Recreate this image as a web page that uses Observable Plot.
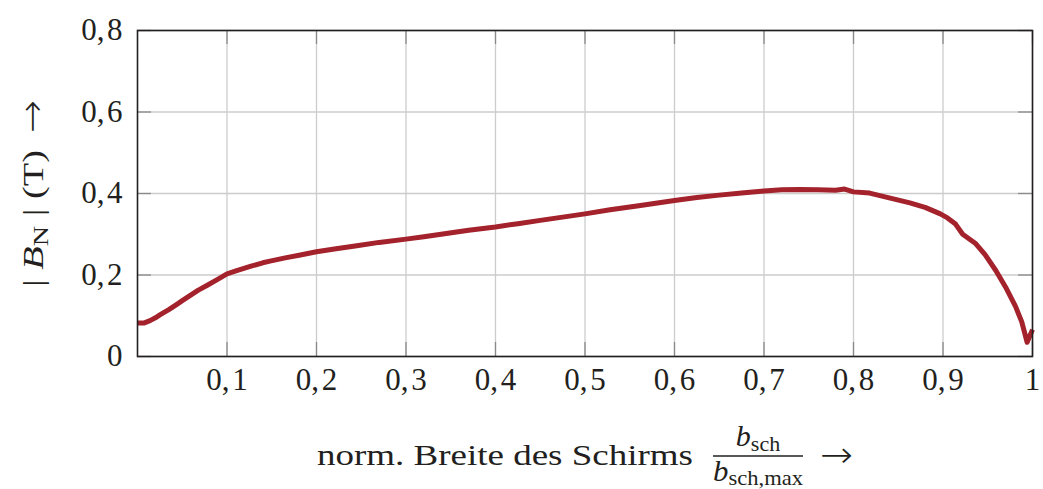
<!DOCTYPE html>
<html><head><meta charset="utf-8">
<script src="https://cdn.jsdelivr.net/npm/d3@7"></script>
<script src="https://cdn.jsdelivr.net/npm/@observablehq/plot@0.6"></script>
<style>body{margin:0;background:#fff} svg{display:block}</style>
</head><body><div id="chart"></div>
<script>
// normierte Breite des Schirms
const xValues = [0, 0.007, 0.014, 0.02, 0.025, 0.035, 0.044, 0.05, 0.059, 0.068, 0.078, 0.09, 0.1, 0.11, 0.126, 0.14, 0.148, 0.165, 0.182, 0.2, 0.22, 0.245, 0.27, 0.3, 0.32, 0.345, 0.37, 0.4, 0.425, 0.45, 0.475, 0.5, 0.528, 0.56, 0.6, 0.625, 0.65, 0.675, 0.7, 0.72, 0.74, 0.76, 0.78, 0.79, 0.8, 0.818, 0.833, 0.848, 0.863, 0.88, 0.897, 0.905, 0.914, 0.922, 0.936, 0.947, 0.959, 0.97, 0.981, 0.988, 0.994, 1.0];
// |B_N| in T
const yValues = [0.082, 0.082, 0.088, 0.095, 0.102, 0.115, 0.128, 0.137, 0.15, 0.163, 0.175, 0.19, 0.203, 0.21, 0.221, 0.23, 0.234, 0.242, 0.249, 0.257, 0.264, 0.272, 0.28, 0.288, 0.294, 0.302, 0.31, 0.318, 0.326, 0.334, 0.342, 0.35, 0.36, 0.37, 0.383, 0.39, 0.396, 0.401, 0.406, 0.409, 0.41, 0.409, 0.408, 0.411, 0.404, 0.401, 0.393, 0.385, 0.377, 0.366, 0.35, 0.34, 0.325, 0.3, 0.278, 0.25, 0.211, 0.17, 0.123, 0.085, 0.035, 0.066];
const xTicks = [0.1, 0.2, 0.3, 0.4, 0.5, 0.6, 0.7, 0.8, 0.9, 1];
const xTickLabels = ["0,1", "0,2", "0,3", "0,4", "0,5", "0,6", "0,7", "0,8", "0,9", "1"];
const yTicks = [0, 0.2, 0.4, 0.6, 0.8];
const yTickLabels = ["0", "0,2", "0,4", "0,6", "0,8"];

const data = xValues.map((x, i) => ({x, y: yValues[i]}));
const W = 1043, H = 489, mL = 137, mR = 11, mT = 30, mB = 133;
const iw = W - mL - mR, ih = H - mT - mB;
const font = "'Liberation Serif', 'Times New Roman', serif";
const arrowFont = "'DejaVu Sans ExtraLight', 'DejaVu Sans Light', 'DejaVu Sans', sans-serif";
const ink = "#231f20";
// math-style comma spacing (hair space after the decimal comma)
const fmt = s => s.replace(",", ",\u200A");

const plot = Plot.plot({
  width: W, height: H,
  marginLeft: mL, marginRight: mR, marginTop: mT, marginBottom: mB,
  style: {fontFamily: font, fontSize: "31px", color: ink, background: "#fff"},
  x: {domain: [0, 1]},
  y: {domain: [0, 0.8]},
  marks: [
    Plot.gridX(xTicks, {stroke: "#cccccc", strokeOpacity: 1, strokeWidth: 1.3}),
    Plot.gridY(yTicks, {stroke: "#cccccc", strokeOpacity: 1, strokeWidth: 1.3}),
    Plot.tickX(xTicks, {x: d => d, insetTop: ih - 14, stroke: "#8a8a8a", strokeWidth: 1.3}),
    Plot.tickX(xTicks, {x: d => d, insetBottom: ih - 14, stroke: "#8a8a8a", strokeWidth: 1.3}),
    Plot.tickY(yTicks, {y: d => d, insetRight: iw - 14, stroke: "#8a8a8a", strokeWidth: 1.3}),
    Plot.tickY(yTicks, {y: d => d, insetLeft: iw - 14, stroke: "#8a8a8a", strokeWidth: 1.3}),
    Plot.line(data, {x: "x", y: "y", stroke: "#a3222b", strokeWidth: 5, strokeLinejoin: "round", strokeLinecap: "butt"}),
    Plot.frame({stroke: ink, strokeWidth: 1.6}),
    Plot.axisX(xTicks, {tickSize: 0, tickPadding: 11, tickFormat: d => fmt(xTickLabels[xTicks.indexOf(d)]), label: null, fill: ink}),
    Plot.axisY(yTicks, {tickSize: 0, tickPadding: 15, tickFormat: d => fmt(yTickLabels[yTicks.indexOf(d)]), label: null, fill: ink})
  ]
});

const svg = d3.select(plot);
// x-axis title
const xt = svg.append("g").attr("font-family", font).attr("fill", ink).attr("text-anchor", "start");
xt.append("text").attr("x", 317).attr("y", 465).attr("font-size", 30)
  .attr("textLength", 376).attr("lengthAdjust", "spacingAndGlyphs").text("norm. Breite des Schirms");
const num = xt.append("text").attr("x", 758).attr("y", 446).attr("font-size", 30).attr("text-anchor", "middle");
num.append("tspan").attr("font-style", "italic").text("b");
num.append("tspan").attr("font-size", 22).attr("dy", 5).text("sch");
xt.append("line").attr("x1", 713).attr("x2", 803).attr("y1", 456).attr("y2", 456).attr("stroke", ink).attr("stroke-width", 1.3);
const den = xt.append("text").attr("x", 713).attr("y", 481).attr("font-size", 30)
  .attr("textLength", 90).attr("lengthAdjust", "spacingAndGlyphs");
den.append("tspan").attr("font-style", "italic").text("b");
den.append("tspan").attr("font-size", 22).attr("dy", 4).text("sch,max");
xt.append("text").attr("x", 820).attr("y", 467).attr("font-size", 36).attr("font-family", arrowFont).attr("font-weight", 200)
  .attr("textLength", 33).attr("lengthAdjust", "spacingAndGlyphs").text("→");

// y-axis title
const yg = svg.append("g").attr("font-family", font).attr("fill", ink).attr("font-size", 30).attr("text-anchor", "start");
const yt = yg.append("text").attr("transform", "translate(43,287) rotate(-90)")
  .attr("textLength", 137).attr("lengthAdjust", "spacingAndGlyphs");
yt.append("tspan").text("| ");
yt.append("tspan").attr("font-style", "italic").text("B");
yt.append("tspan").attr("font-size", 22).attr("dy", 5).text("N");
yt.append("tspan").attr("dy", -5).text(" | (T)");
yg.append("text").attr("transform", "translate(44,133) rotate(-90)").attr("font-size", 36).attr("font-family", arrowFont).attr("font-weight", 200)
  .attr("textLength", 33).attr("lengthAdjust", "spacingAndGlyphs").text("→");

document.getElementById("chart").appendChild(plot);
</script>
</body></html>
